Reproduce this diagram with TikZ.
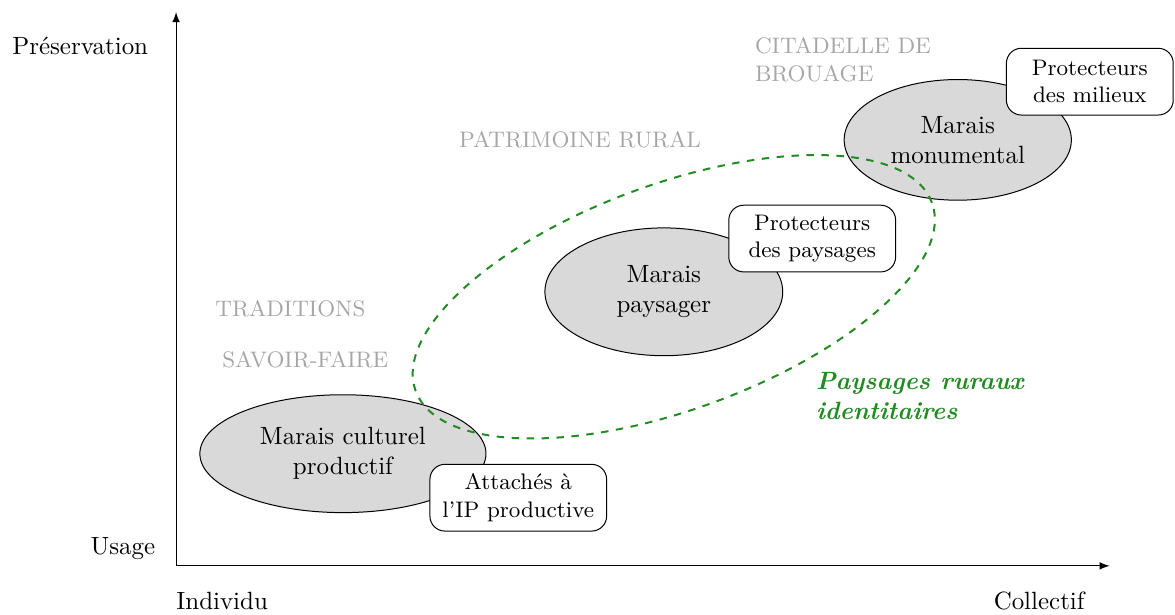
\documentclass[tikz,border=0pt]{standalone}
\usepackage{amsmath,amssymb}
\usepackage{tikz}
\usetikzlibrary{shapes.geometric, positioning, arrows}

\definecolor{vertpaysage}{RGB}{34,139,34}

\begin{document}
\begin{tikzpicture}[
	marais/.style={ellipse,draw,fill=gray!30,align=center,inner sep=0pt},
	acteur/.style={draw,rounded corners=6pt,fill=white,align=center,font=\small,
		minimum width=2.35cm,minimum height=0.94cm,inner xsep=5pt},
	theme/.style={text=black!35,font=\small,align=left}]
			\useasboundingbox (-2.48,-0.68) rectangle (14.07,7.97);
			% axes
			\coordinate (O) at (0,0);
			\coordinate (ytop) at (0,7.8);
			\coordinate (xend) at (13.15,0);
			\draw[-latex] (O) -- (ytop);
			\draw[-latex] (O) -- (xend);
			\node[anchor=east] (pres) at (-0.27,7.32) {Préservation};
			\node[anchor=east] (usage) at (-0.17,0.24) {Usage};
			\node[anchor=west] (indiv) at (-0.12,-0.49) {Individu};
			\node[anchor=east] (coll) at (12.92,-0.49) {Collectif};
			% themes
			\node[theme,anchor=west] (citadelle) at (8.03,7.13) {CITADELLE DE\\BROUAGE};
			\node[theme] (patrimoine) at (5.69,6.0) {PATRIMOINE RURAL};
			\node[theme] (traditions) at (1.61,3.62) {TRADITIONS};
			\node[theme] (savoir) at (1.82,2.90) {SAVOIR-FAIRE};
			% marais
			\node[marais,minimum width=4.03cm,minimum height=1.66cm] (culturel) at (2.35,1.58) {Marais culturel\\productif};
			\node[marais,minimum width=3.35cm,minimum height=1.8cm] (paysager) at (6.87,3.86) {Marais\\paysager};
			\node[marais,minimum width=3.2cm,minimum height=1.7cm] (monumental) at (11.01,6.0) {Marais\\monumental};
			% acteurs
			\node[acteur,minimum width=2.45cm] (attaches) at (4.82,0.96) {Attachés à\\l'IP productive};
			\node[acteur] (protpays) at (8.96,4.61) {Protecteurs\\des paysages};
			\node[acteur] (protmil) at (12.87,6.82) {Protecteurs\\des milieux};
			% paysages ruraux identitaires
			\draw[vertpaysage,dashed,thick] (7.01,3.79) ellipse [x radius=3.87cm,y radius=1.59cm,rotate=20];
			\node[anchor=west,text=vertpaysage,font=\bfseries\itshape,align=left] (identitaires) at (8.89,2.39) {Paysages ruraux\\identitaires};
\end{tikzpicture}
\end{document}
